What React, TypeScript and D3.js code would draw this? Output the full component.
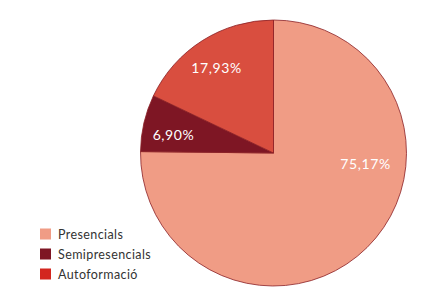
import React from "react";
import * as d3 from "d3";

const categories = ["Presencials", "Semipresencials", "Autoformació"];
const values = [75.17, 6.9, 17.93];
const labels = ["75,17%", "6,90%", "17,93%"];
const sliceColors = ["#f09c85", "#7e1624", "#d94e3f"];
const legendColors = ["#f09c85", "#7e1624", "#d3261f"];

export default function App() {
  const W = 446, H = 306;
  const cx = 273.5, cy = 153, r = 133;
  const pie = d3.pie<number>().sort(null).value((d) => d);
  const arcs = pie(values);
  const arc = d3.arc<d3.PieArcDatum<number>>().innerRadius(0).outerRadius(r);
  const labelPos = [
    [92, 10],
    [-100, -19],
    [-57, -86],
  ];
  const legendY = d3.scalePoint<string>().domain(categories).range([234, 274]);
  return (
    <svg width={W} height={H} style={{ position: "absolute", left: 0, top: 0 }}>
      <rect width={W} height={H} fill="#fff" />
      <g transform={`translate(${cx},${cy})`}>
        {arcs.map((a, i) => (
          <path key={i} d={arc(a) || ""} fill={sliceColors[i]} stroke="#8a1f25" strokeWidth={0.8} />
        ))}
        {arcs.map((a, i) => (
          <text
            key={"l" + i}
            x={labelPos[i][0]}
            y={labelPos[i][1]}
            textAnchor="middle"
            dominantBaseline="central"
            fill="#fff"
            fontFamily="Lato, 'Open Sans', sans-serif"
            fontSize={14}
            letterSpacing={0.6}
          >
            {labels[i]}
          </text>
        ))}
      </g>
      {categories.map((c, i) => (
        <g key={c} transform={`translate(40,${legendY(c)})`}>
          <rect x={0} y={-5.5} width={11} height={11} fill={legendColors[i]} />
          <text x={18} y={0} dominantBaseline="central" fill="#333" fontFamily="Lato, 'Open Sans', sans-serif" fontSize={12.5} letterSpacing={0.4}>
            {c}
          </text>
        </g>
      ))}
    </svg>
  );
}
